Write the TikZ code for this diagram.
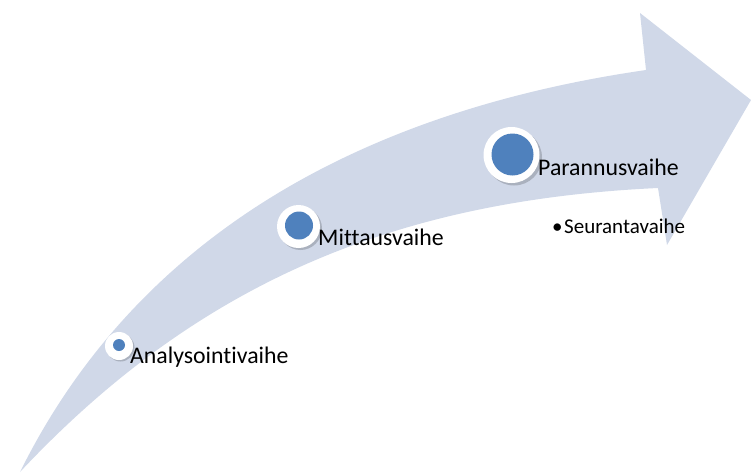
\documentclass[tikz,border=0pt]{standalone}
\usepackage{fontspec}
\setmainfont[Ligatures=NoCommon]{Carlito}
\begin{document}
\begin{tikzpicture}[x=1pt,y=-1pt,
  ring/.style={circle,fill=white,inner sep=0pt,draw=none},
  dot/.style={circle,fill=dotblue,inner sep=0pt,draw=none},
  shade/.style={circle,fill=black,opacity=0.18,inner sep=0pt,draw=none},
  lbl/.style={anchor=base west,inner sep=0pt,font=\fontsize{23.8}{27}\selectfont,text=black},
  sublbl/.style={anchor=base west,inner sep=0pt,font=\fontsize{21}{24}\selectfont,text=black}]
\definecolor{bandfill}{HTML}{D0D8E8}
\definecolor{dotblue}{HTML}{4F81BD}
\useasboundingbox (0,0) rectangle (751,474);
% curved arrow
\fill[bandfill] (20,472) .. controls (140,230) and (370,110) .. (646,70)
  -- (640,13) -- (751,100) -- (667,245) -- (658,188)
  .. controls (400,200) and (200,280) .. (20,472) -- cycle;
% stage 1
\node[shade,minimum size=28pt] at (120.5,347.5) {};
\node[ring,minimum size=28pt] (r1) at (119,346) {};
\node[dot,minimum size=12pt] (d1) at (119,345) {};
\node[lbl] (t1) at (130,363) {Analysointivaihe};
% stage 2
\node[shade,minimum size=43pt] at (300.5,228.5) {};
\node[ring,minimum size=43pt] (r2) at (298.5,226.5) {};
\node[dot,minimum size=28pt] (d2) at (299,225.5) {};
\node[lbl] (t2) at (318,245) {Mittausvaihe};
% stage 3
\node[shade,minimum size=56pt] at (514,157.5) {};
\node[ring,minimum size=56pt] (r3) at (511.5,155) {};
\node[dot,minimum size=42pt] (d3) at (512.5,154.5) {};
\node[lbl] (t3) at (538,175) {Parannusvaihe};
% sub item
\node[sublbl] (t4) at (552,233) {\textbullet\hspace{1.5pt}Seurantavaihe};
\end{tikzpicture}
\end{document}
